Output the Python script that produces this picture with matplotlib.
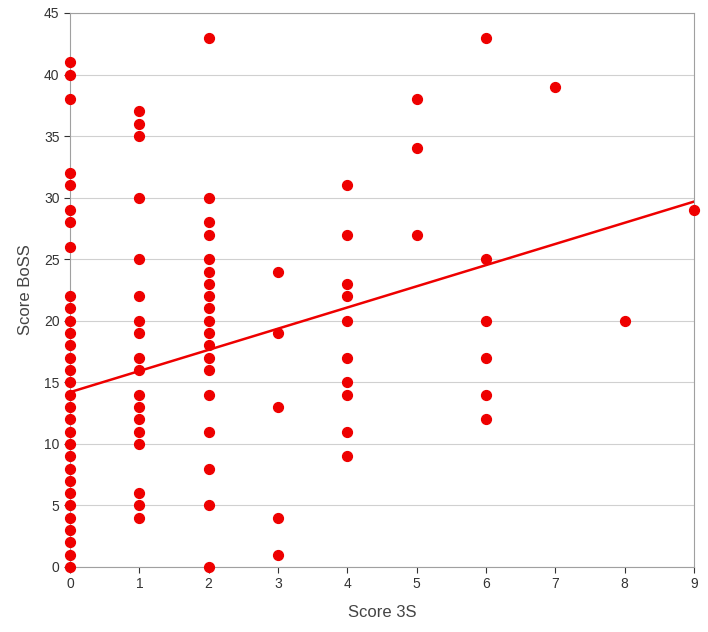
import numpy as np
import matplotlib.pyplot as plt

plt.rcParams['font.family'] = 'Liberation Sans'

# scores, grouped by Score 3S
x0 = [41, 40, 38, 32, 31, 29, 28, 26, 22, 21, 20, 19, 18, 17, 16, 15, 14, 13,
      12, 11, 10, 9, 8, 7, 6, 5, 4, 3, 2, 1, 0]
x1 = [37, 36, 35, 30, 25, 22, 20, 19, 17, 16, 14, 13, 12, 11, 10, 6, 5, 4]
x2 = [43, 30, 28, 27, 25, 24, 23, 22, 21, 20, 19, 18, 17, 16, 14, 11, 8, 5, 0]
x3 = [24, 19, 13, 4, 1]
x4 = [31, 27, 23, 22, 20, 17, 15, 14, 11, 9]
x5 = [38, 34, 27]
x6 = [43, 25, 20, 17, 14, 12]
x7 = [39]
x8 = [20]
x9 = [29]
groups = [x0, x1, x2, x3, x4, x5, x6, x7, x8, x9]

# trend line
intercept = 14.2
slope = 1.72

fig = plt.figure(figsize=(7.08, 6.32), dpi=100)
ax = fig.add_axes([70/708, 1-567/632, 624/708, 554/632])

for s, ys in enumerate(groups):
    ax.scatter([s]*len(ys), ys, color='#ee0000', s=50, zorder=3, clip_on=False)

xs = np.array([0, 9])
ax.plot(xs, intercept + slope*xs, color='#ee0000', lw=1.8, zorder=2)

ax.set_xlim(0, 9)
ax.set_ylim(0, 45)
ax.set_xticks(range(10))
ax.set_yticks(range(0, 46, 5))
ax.yaxis.grid(True, color='#d0d0d0', lw=0.8)
ax.set_axisbelow(True)
for sp in ax.spines.values():
    sp.set_color('#a0a0a0')
ax.tick_params(colors='#333333', labelsize=10, length=4)
ax.set_xlabel('Score 3S', fontsize=12, color='#444444', labelpad=10)
ax.set_ylabel('Score BoSS', fontsize=12, color='#444444', labelpad=8)

fig.savefig('out.png', dpi=100)
